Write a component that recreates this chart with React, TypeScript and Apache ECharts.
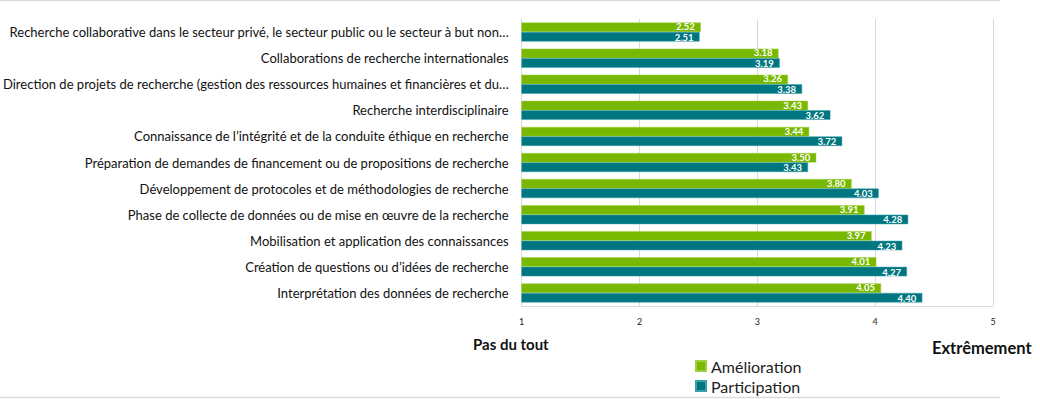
import React, { useEffect, useRef } from "react";
import * as echarts from "echarts";

const categories = [
  "Recherche collaborative dans le secteur privé, le secteur public ou le secteur à but non…",
  "Collaborations de recherche internationales",
  "Direction de projets de recherche (gestion des ressources humaines et financières et du…",
  "Recherche interdisciplinaire",
  "Connaissance de l’intégrité et de la conduite éthique en recherche",
  "Préparation de demandes de financement ou de propositions de recherche",
  "Développement de protocoles et de méthodologies de recherche",
  "Phase de collecte de données ou de mise en œuvre de la recherche",
  "Mobilisation et application des connaissances",
  "Création de questions ou d’idées de recherche",
  "Interprétation des données de recherche",
];

const amelioration = [2.52, 3.18, 3.26, 3.43, 3.44, 3.5, 3.8, 3.91, 3.97, 4.01, 4.05];
const participation = [2.51, 3.19, 3.38, 3.62, 3.72, 3.43, 4.03, 4.28, 4.23, 4.27, 4.4];

const seriesNames = ["Amélioration", "Participation"];
const xMin = 1;
const xMax = 5;

const GREEN = "#78B800";
const TEAL = "#007681";
const FONT = "Lato, 'Open Sans', sans-serif";

export default function App() {
  const ref = useRef<HTMLDivElement>(null);
  useEffect(() => {
    if (!ref.current) return;
    const chart = echarts.init(ref.current, null, { renderer: "svg" });
    const mkLabel = (dy: number) => ({
      show: true,
      position: "insideRight",
      distance: 6,
      offset: [0, dy],
      color: "#ffffff",
      fontSize: 9.5,
      lineHeight: 9,
      fontWeight: "bold",
      fontFamily: FONT,
      formatter: (p: any) => Number(p.value).toFixed(2),
    });
    chart.setOption({
      animation: false,
      textStyle: { fontFamily: FONT },
      grid: { left: 520, right: 47, top: 19, bottom: 93, containLabel: false },
      legend: {
        data: seriesNames,
        orient: "vertical",
        left: 690,
        top: 352,
        height: 60,
        itemWidth: 10,
        itemHeight: 10,
        itemGap: 2,
        icon: "rect",
        textStyle: { fontSize: 16, lineHeight: 18, color: "#222", fontFamily: FONT },
      },
      xAxis: {
        type: "value",
        min: xMin,
        max: xMax,
        interval: 1,
        axisLine: { show: true, lineStyle: { color: "#d9d9d9" } },
        axisTick: { show: false },
        splitLine: { show: true, lineStyle: { color: "#d9d9d9" } },
        axisLabel: { fontSize: 9, color: "#222", margin: 11, fontFamily: FONT },
      },
      yAxis: {
        type: "category",
        data: categories,
        inverse: true,
        axisLine: { show: true, lineStyle: { color: "#d9d9d9" } },
        axisTick: { show: false },
        axisLabel: { fontSize: 13, color: "#111", margin: 13, fontFamily: FONT },
      },
      series: [
        {
          name: seriesNames[0],
          type: "bar",
          data: amelioration,
          barWidth: 9.5,
          barGap: "0%",
          itemStyle: { color: GREEN, borderColor: "#9fd040", borderWidth: 0.5 },
          label: mkLabel(-0.5),
        },
        {
          name: seriesNames[1],
          type: "bar",
          data: participation,
          barWidth: 9.5,
          barGap: "0%",
          itemStyle: { color: TEAL, borderColor: "#3aa0aa", borderWidth: 0.5 },
          label: mkLabel(0.5),
        },
      ],
      graphic: [
        { type: "line", shape: { x1: 0, y1: 0.5, x2: 1000, y2: 0.5 }, style: { stroke: "#dcdcdc", lineWidth: 1.5 } },
        { type: "line", shape: { x1: 0, y1: 397.5, x2: 1000, y2: 397.5 }, style: { stroke: "#dcdcdc", lineWidth: 1.5 } },
        {
          type: "text",
          left: 473,
          top: 336,
          style: { text: "Pas du tout", fontSize: 15, fontWeight: "bold", fill: "#111", fontFamily: FONT },
        },
        {
          type: "text",
          left: 932,
          top: 339,
          style: { text: "Extrêmement", fontSize: 16.5, fontWeight: "bold", fill: "#111", fontFamily: FONT },
        },
      ],
    });
    return () => chart.dispose();
  }, []);
  return <div ref={ref} style={{ width: 1040, height: 399, position: "absolute", left: 0, top: 0 }} />;
}
